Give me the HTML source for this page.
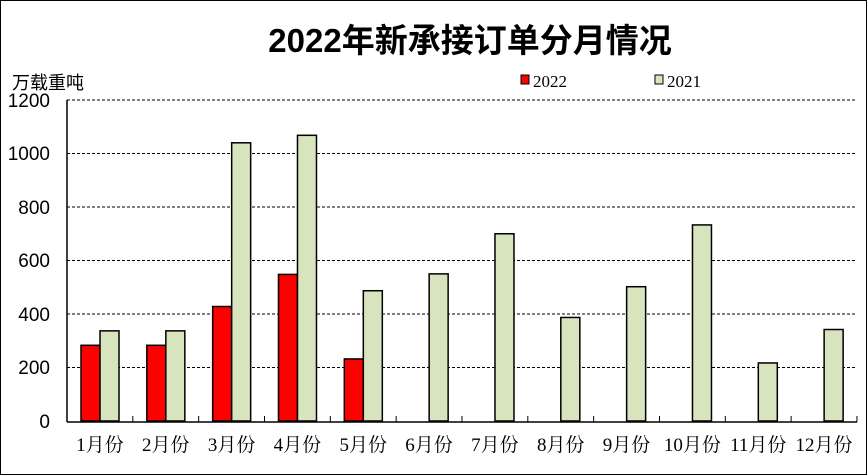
<!DOCTYPE html><html><head><meta charset="utf-8"><style>body{margin:0;background:#fff}svg{display:block}</style></head><body>
<svg width="867" height="476" xmlns="http://www.w3.org/2000/svg" font-family="Liberation Sans, Noto Sans CJK SC, sans-serif">
<rect x="0.5" y="0.5" width="866" height="474" fill="#fff" stroke="#000" stroke-width="1"/>
<text x="470" y="52" font-size="33" font-weight="bold" text-anchor="middle" font-family="Liberation Sans, Noto Sans CJK SC, sans-serif">2022年新承接订单分月情况</text>
<text x="12" y="89" font-size="18">万载重吨</text>
<rect x="521" y="75" width="8" height="9" fill="#f00" stroke="#000"/>
<text x="533" y="87" font-size="17" font-family="Liberation Serif, serif">2022</text>
<rect x="655" y="75" width="8" height="9" fill="#d7e4bd" stroke="#000"/>
<text x="667" y="87" font-size="17" font-family="Liberation Serif, serif">2021</text>
<g stroke="#000" stroke-dasharray="3,2" stroke-width="1">
<line x1="67" x2="857" y1="100" y2="100"/><line x1="67" x2="857" y1="153.5" y2="153.5"/><line x1="67" x2="857" y1="207" y2="207"/><line x1="67" x2="857" y1="260.5" y2="260.5"/><line x1="67" x2="857" y1="314" y2="314"/><line x1="67" x2="857" y1="367.5" y2="367.5"/></g>
<g font-size="19" text-anchor="end">
<text x="50" y="107">1200</text><text x="50" y="160">1000</text><text x="50" y="214">800</text><text x="50" y="267">600</text><text x="50" y="321">400</text><text x="50" y="374">200</text><text x="50" y="428">0</text></g>
<g id="bars" stroke="#000" stroke-width="1.5"></g>
<line x1="67" y1="100" x2="67" y2="422" stroke="#000" stroke-width="1.5"/>
<line x1="67" y1="422" x2="857" y2="422" stroke="#000" stroke-width="1.5"/>
<g id="ticks" stroke="#000"></g>
<g id="labels" font-size="19" text-anchor="middle" font-family="Liberation Serif, Noto Serif CJK SC, serif"></g>
<script>
var r=[283,283,428,548,232,0,0,0,0,0,0,0],g=[337,337,1040,1068,487,550,700,387,502,733,217,342];
var w=65.83,ns="http://www.w3.org/2000/svg",b=document.getElementById('bars'),t=document.getElementById('ticks'),l=document.getElementById('labels');
function y(v){return 421-v*0.2675}
for(var i=0;i<12;i++){var x0=67+i*w;
if(r[i]){var e=document.createElementNS(ns,'rect');e.setAttribute('x',x0+14);e.setAttribute('y',y(r[i]));e.setAttribute('width',19);e.setAttribute('height',421-y(r[i]));e.setAttribute('fill','#f00');b.appendChild(e);}
var e2=document.createElementNS(ns,'rect');e2.setAttribute('x',x0+33);e2.setAttribute('y',y(g[i]));e2.setAttribute('width',19);e2.setAttribute('height',421-y(g[i]));e2.setAttribute('fill','#d7e4bd');b.appendChild(e2);
var k=document.createElementNS(ns,'line');k.setAttribute('x1',x0+w);k.setAttribute('x2',x0+w);k.setAttribute('y1',422);k.setAttribute('y2',416);t.appendChild(k);
var s=document.createElementNS(ns,'text');s.setAttribute('x',x0+w/2);s.setAttribute('y',451);s.textContent=(i+1)+'月份';l.appendChild(s);}
</script>
</svg></body></html>
